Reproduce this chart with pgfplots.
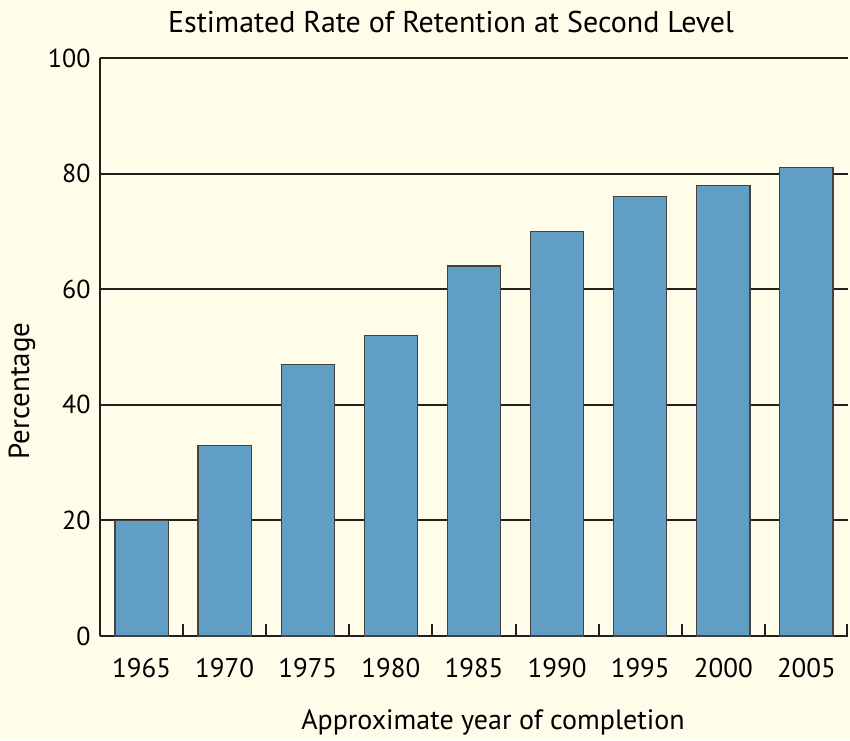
\documentclass[border=0pt]{standalone}
\usepackage{pgfplots}
\pgfplotsset{compat=1.18}
\usepackage{fontspec}
\setmainfont{PT Sans}
\definecolor{bg}{RGB}{255,252,233}
\definecolor{barc}{RGB}{96,158,198}
\definecolor{ink}{RGB}{35,31,32}
\begin{document}
\begin{tikzpicture}[x=1pt,y=1pt]
\fill[bg] (0,0) rectangle (850,740);
\begin{axis}[
  at={(100pt,104pt)}, anchor=south west,
  width=748pt, height=578pt, scale only axis,
  xmin=-0.5, xmax=8.5, ymin=0, ymax=100,
  axis lines*=left,
  axis line style={ink, line width=2pt, -},
  ytick={0,20,40,60,80,100},
  ymajorgrids,
  grid style={ink, line width=2pt},
  xtick={0,...,8},
  xticklabels={1965,1970,1975,1980,1985,1990,1995,2000,2005},
  major tick length=0pt,
  xticklabel style={font=\fontsize{27}{32}\selectfont, yshift=-19pt},
  yticklabel style={font=\fontsize{26}{30}\selectfont, xshift=-6pt},
  /pgf/number format/assume math mode=true,
]
\addplot[ybar, bar width=0.64, fill=barc, draw=ink!85, line width=1.2pt] coordinates {
(0,20) (1,33) (2,47) (3,52) (4,64) (5,70) (6,76) (7,78) (8,81)};
\end{axis}
\fill[ink] (99,104) rectangle (101,116);
\fill[ink] (182.1,104) rectangle (184.1,116);
\fill[ink] (265.2,104) rectangle (267.2,116);
\fill[ink] (348.3,104) rectangle (350.3,116);
\fill[ink] (431.4,104) rectangle (433.4,116);
\fill[ink] (514.6,104) rectangle (516.6,116);
\fill[ink] (597.7,104) rectangle (599.7,116);
\fill[ink] (680.8,104) rectangle (682.8,116);
\fill[ink] (763.9,104) rectangle (765.9,116);
\fill[ink] (846,104) rectangle (848,116);
\node[font=\fontsize{30}{34}\selectfont] at (451,718) {Estimated Rate of Retention at Second Level};
\node[font=\fontsize{28}{32}\selectfont] at (493,18) {Approximate year of completion};
\node[font=\fontsize{29}{32}\selectfont, rotate=90] at (22,349) {Percentage};
\end{tikzpicture}
\end{document}
